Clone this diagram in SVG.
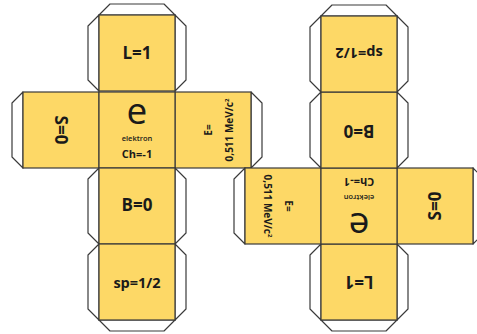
<svg xmlns="http://www.w3.org/2000/svg" width="477" height="334" viewBox="0 0 477 334">
<defs>
<style>
.face{fill:#FDD866;stroke:#3a3a3a;stroke-width:1.2}
.flap{fill:#ffffff;stroke:#3a3a3a;stroke-width:1.2;stroke-linejoin:round}
text{font-family:"Open Sans","Liberation Sans",sans-serif;fill:#1a1a1a;text-anchor:middle}
.big{font-size:17px;font-weight:700}
.sp{font-size:14.5px;font-weight:700}
.e{font-size:37px;font-weight:400}
.el{font-size:7.5px;font-weight:600}
.ch{font-size:11px;font-weight:700}
.en{font-size:10px;font-weight:700}
</style>
<polygon id="fT" class="flap" points="0,0 11,-11 65,-11 76,0"/>
<polygon id="fB" class="flap" points="0,76 11,87 65,87 76,76"/>
<polygon id="fL" class="flap" points="0,0 -11,11 -11,65 0,76"/>
<polygon id="fR" class="flap" points="76,0 87,11 87,65 76,76"/>
</defs>
<rect width="477" height="334" fill="#ffffff"/>
<g id="connectors"></g>

<!-- Left net -->
<g id="left-L" transform="translate(99,15)">
<use href="#fT"/><use href="#fL"/><use href="#fR"/>
<rect class="face" width="76" height="76"/>
<text class="big" x="38" y="44">L=1</text>
</g>
<g id="left-S" transform="translate(23,92)">
<use href="#fL"/>
<rect class="face" width="76" height="76"/>
<text class="big" transform="translate(38,38) rotate(90)" x="0" y="6">S=0</text>
</g>
<g id="left-E" transform="translate(175,92)">
<use href="#fR"/>
<rect class="face" width="76" height="76"/>
<text class="en" transform="translate(36.5,38) rotate(-90)" x="0" y="0">E=</text>
<text class="en" transform="translate(57.5,38) rotate(-90)" x="0" y="0">0,511 MeV/c<tspan font-size="6" dy="-4">2</tspan></text>
</g>
<g id="left-e" transform="translate(99,92)">
<rect class="face" width="76" height="76"/>
<text class="e" x="38" y="31.5">e</text>
<text class="el" x="38" y="49">elektron</text>
<text class="ch" x="38" y="66">Ch=-1</text>
</g>
<g id="left-B" transform="translate(99,168)">
<use href="#fL"/><use href="#fR"/>
<rect class="face" width="76" height="76"/>
<text class="big" x="38" y="43">B=0</text>
</g>
<g id="left-sp" transform="translate(99,244)">
<use href="#fL"/><use href="#fR"/><use href="#fB"/>
<rect class="face" width="76" height="76"/>
<text class="sp" x="38" y="44">sp=1/2</text>
</g>

<!-- Right net (rotated 180) -->
<g id="right-L" transform="translate(397,320) rotate(180)">
<use href="#fT"/><use href="#fL"/><use href="#fR"/>
<rect class="face" width="76" height="76"/>
<text class="big" x="38" y="44">L=1</text>
</g>
<g id="right-S" transform="translate(473,244) rotate(180)">
<use href="#fL"/>
<rect class="face" width="76" height="76"/>
<text class="big" transform="translate(38,38) rotate(90)" x="0" y="6">S=0</text>
</g>
<g id="right-E" transform="translate(321,244) rotate(180)">
<use href="#fR"/>
<rect class="face" width="76" height="76"/>
<text class="en" transform="translate(36.5,38) rotate(-90)" x="0" y="0">E=</text>
<text class="en" transform="translate(57.5,38) rotate(-90)" x="0" y="0">0,511 MeV/c<tspan font-size="6" dy="-4">2</tspan></text>
</g>
<g id="right-e" transform="translate(397,244) rotate(180)">
<rect class="face" width="76" height="76"/>
<text class="e" x="38" y="31.5">e</text>
<text class="el" x="38" y="49">elektron</text>
<text class="ch" x="38" y="66">Ch=-1</text>
</g>
<g id="right-B" transform="translate(397,168) rotate(180)">
<use href="#fL"/><use href="#fR"/>
<rect class="face" width="76" height="76"/>
<text class="big" x="38" y="43">B=0</text>
</g>
<g id="right-sp" transform="translate(397,92) rotate(180)">
<use href="#fL"/><use href="#fR"/><use href="#fB"/>
<rect class="face" width="76" height="76"/>
<text class="sp" x="38" y="44">sp=1/2</text>
</g>
</svg>
